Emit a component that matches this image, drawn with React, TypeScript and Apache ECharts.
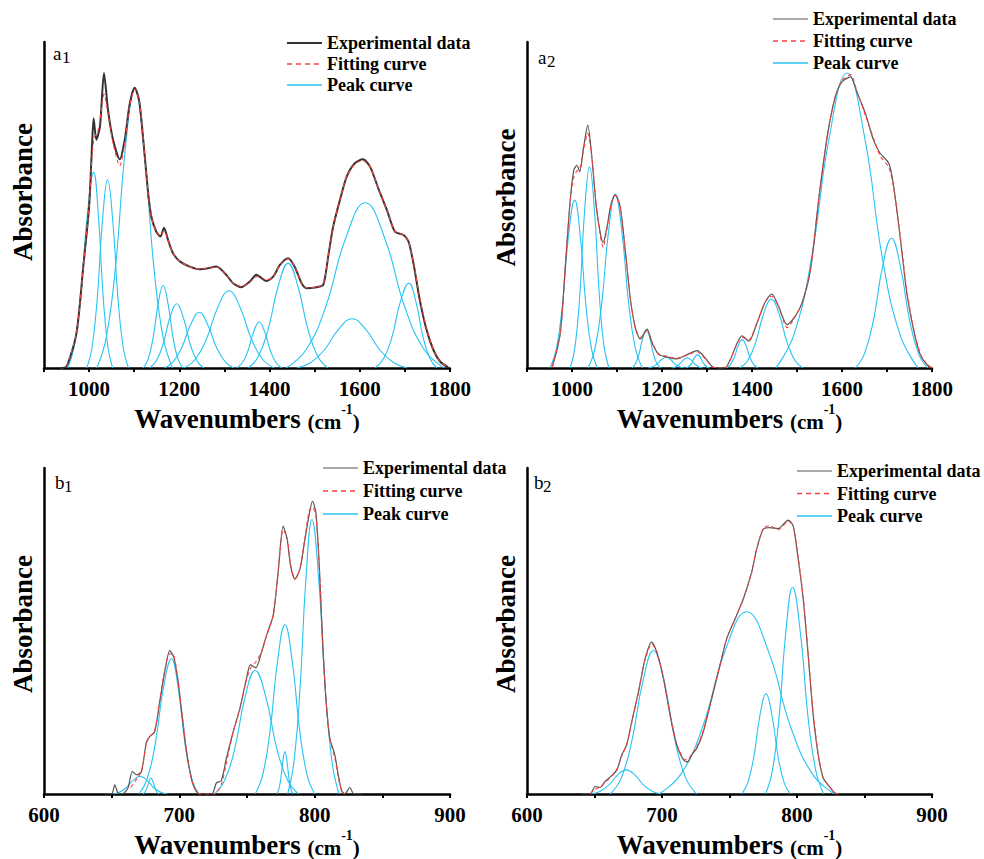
import React, { useEffect, useRef } from 'react';
import * as echarts from 'echarts';

// ---------- panel a1 ----------
const a1Exp: number[][] = [[935,0],[950,0.5],[972,10.7],[987,31],[1000,49.5],[1007,70],[1010,76.5],[1016,70],[1024,74],[1033,90.5],[1042,79],[1053,70],[1068,64],[1079,70],[1090,81],[1101,86],[1111,82],[1120,70],[1131,53.5],[1138,46.4],[1149,41.8],[1158,40.3],[1166,43],[1175,39.3],[1186,35.2],[1201,32.7],[1223,31.1],[1245,30.3],[1264,30.6],[1282,31.1],[1304,28.6],[1319,26],[1338,24.8],[1356,26.5],[1371,28.6],[1378,28],[1393,26.7],[1408,28],[1423,31.6],[1441,33.7],[1456,31],[1471,26],[1482,24.5],[1504,24.8],[1519,25.5],[1530,34.2],[1541,43.4],[1556,51.5],[1571,58.7],[1589,62.8],[1607,64],[1623,61.7],[1641,55.1],[1660,48.5],[1678,41.8],[1697,40.8],[1708,38.8],[1719,32.1],[1733,20.9],[1748,11.7],[1763,5.6],[1778,2],[1796,0.2]];
const a1Fit: number[][] = [[950,0.5],[972,10.7],[987,31],[1000,50],[1007,66],[1012,71],[1018,72],[1024,76],[1033,84],[1042,78],[1053,69],[1068,62],[1079,69],[1090,80.5],[1101,85.5],[1111,82],[1120,70],[1131,53.5],[1138,46.4],[1149,41.8],[1158,40.6],[1166,42],[1175,39.3],[1186,35.2],[1201,32.7],[1223,31.1],[1245,30.3],[1264,30.6],[1282,31],[1304,28.6],[1319,26],[1338,25],[1356,26.3],[1371,28],[1378,28],[1393,27],[1408,28],[1423,31.6],[1441,33.5],[1456,31],[1471,26],[1482,24.6],[1504,24.8],[1519,25.8],[1530,34.2],[1541,43.4],[1556,51.5],[1571,58.7],[1589,62.6],[1607,63.6],[1623,61.7],[1641,55.1],[1660,48.5],[1678,42],[1697,40.8],[1708,38.8],[1719,32.3],[1733,21.5],[1748,12.2],[1763,5.8],[1778,2],[1796,0.2]];
const a1Peaks: number[][][] = [
  [[953,0],[967,6.6],[981.5,22.2],[996,46.8],[1010,60],[1020.5,46.8],[1031,22.2],[1041.5,6.6],[1052,0]],
  [[995,0],[1006.5,6.3],[1018,21.3],[1029.5,45],[1041,57.7],[1052.5,45],[1064,21.3],[1075.5,6.3],[1087,0]],
  [[1017,0],[1038,9.4],[1059,31.7],[1080,66.8],[1101,85.7],[1122,66.8],[1143,31.7],[1164,9.4],[1185,0]],
  [[1120,0],[1131,2.8],[1142,9.4],[1153,19.7],[1164,25.3],[1175,19.7],[1186,9.4],[1197,2.8],[1208,0]],
  [[1134,0],[1149,2.2],[1164,7.3],[1179,15.4],[1194,19.7],[1209,15.4],[1224,7.3],[1239,2.2],[1254,0]],
  [[1167,0],[1186,1.9],[1205.5,6.3],[1225,13.3],[1244,17.1],[1263,13.3],[1282.5,6.3],[1302,1.9],[1321,0]],
  [[1210,0],[1235,2.6],[1260,8.8],[1285,18.5],[1310,23.7],[1335,18.5],[1360,8.8],[1385,2.6],[1410,0]],
  [[1327,0],[1339.5,1.6],[1352,5.2],[1364.5,11],[1377,14.1],[1389.5,11],[1402,5.2],[1414.5,1.6],[1427,0]],
  [[1353,0],[1375,3.5],[1397,11.9],[1419,25],[1441,32.1],[1463,25],[1485,11.9],[1507,3.5],[1529,0]],
  [[1461,0],[1491.5,1.7],[1522,5.6],[1552.5,11.8],[1583,15.1],[1613.5,11.8],[1644,5.6],[1674.5,1.7],[1705,0]],
  [[1437,0],[1481,5.6],[1524.5,18.8],[1568,39.5],[1612,50.7],[1656,39.5],[1699.5,18.8],[1743,5.6],[1787,0]],
  [[1634,0],[1653,2.9],[1671.5,9.6],[1690,20.3],[1709,26],[1724.5,20.3],[1740,9.6],[1755.5,2.9],[1771,0]],
];

// ---------- panel a2 ----------
const a2Exp: number[][] = [[950,0],[956,0.3],[974,10.7],[985,31],[996,51.5],[1004,60.7],[1011,62.2],[1017,60.2],[1026,67.9],[1035,74.5],[1044,64.8],[1054,49.5],[1063,41.3],[1069,38.5],[1078,43.4],[1087,50.5],[1096,53.1],[1107,49.5],[1119,35.2],[1130,20.9],[1141,12.2],[1152,8.9],[1167,11.9],[1178,7.7],[1193,4.1],[1211,3.4],[1233,2.8],[1256,4.1],[1278,5.3],[1296,3.1],[1311,0.5],[1325,0],[1340,0],[1352,2.6],[1367,7.7],[1378,9.9],[1393,8.2],[1411,13.8],[1430,20.4],[1444,22.7],[1459,18.9],[1478,13.3],[1493,15.3],[1511,19.9],[1530,30.1],[1548,51.5],[1567,70.9],[1585,83.2],[1600,87.8],[1619,89.3],[1633,84.7],[1652,78.1],[1670,69.9],[1685,65.8],[1704,62.8],[1715,55.6],[1730,39.3],[1744,23],[1759,11.7],[1774,4.1],[1789,1],[1800,0]];
const a2Fit: number[][] = [[956,0.3],[974,10.7],[985,31],[996,51],[1004,58.5],[1011,60.5],[1017,61],[1026,67],[1035,72],[1044,64.8],[1054,49.5],[1063,40.5],[1069,37],[1078,43],[1087,50.3],[1096,53],[1107,49.5],[1119,35.2],[1130,20.9],[1141,12.2],[1152,9.3],[1167,11.5],[1178,7.9],[1193,4.3],[1211,3.6],[1233,3],[1256,4],[1278,5],[1296,2.8],[1311,0.5],[1325,0],[1340,0],[1352,2.6],[1367,7.5],[1378,9.4],[1393,8.6],[1411,13.8],[1430,20.4],[1444,22],[1459,18.9],[1478,12.4],[1493,15],[1511,19.9],[1530,30.1],[1548,51.5],[1567,70.9],[1585,83.2],[1600,88.2],[1619,90],[1633,85],[1652,77.5],[1670,70.5],[1685,65],[1704,61.5],[1715,55],[1730,39.8],[1744,23.8],[1759,12.2],[1774,4.4],[1789,1.2],[1800,0]];
const a2Peaks: number[][][] = [
  [[951,0],[965,5.7],[978.5,19.1],[992,40.2],[1006,51.5],[1018.5,40.2],[1031,19.1],[1043.5,5.7],[1056,0]],
  [[996,0],[1007,6.8],[1017.5,22.8],[1028,48.1],[1039,61.7],[1050,48.1],[1060.5,22.8],[1071,6.8],[1082,0]],
  [[1036,0],[1051,5.9],[1066,19.7],[1081,41.6],[1096,53.3],[1111,41.6],[1126,19.7],[1141,5.9],[1156,0]],
  [[1133,0],[1141,1.3],[1149,4.3],[1157,9.1],[1165,11.7],[1173,9.1],[1181,4.3],[1189,1.3],[1197,0]],
  [[1169,0],[1179,0.36],[1189,1.2],[1199,2.6],[1209,3.3],[1219,2.6],[1229,1.2],[1239,0.36],[1249,0]],
  [[1221,0],[1229.75,0.34],[1238.5,1.15],[1247.25,2.4],[1256,3.1],[1264.75,2.4],[1273.5,1.15],[1282.25,0.34],[1291,0]],
  [[1253,0],[1259.5,0.45],[1266,1.5],[1272.5,3.2],[1279,4.1],[1285.5,3.2],[1292,1.5],[1298.5,0.45],[1305,0]],
  [[1343,0],[1351.75,0.96],[1360.5,3.2],[1369.25,6.8],[1378,8.7],[1386.75,6.8],[1395.5,3.2],[1404.25,0.96],[1413,0]],
  [[1373,0],[1390.5,2.3],[1408,7.8],[1425.5,16.5],[1443,21.1],[1460.5,16.5],[1478,7.8],[1495.5,2.3],[1513,0]],
  [[1453,0],[1492.5,10],[1532,33.5],[1571.5,70.6],[1611,90.5],[1650.5,70.6],[1690,33.5],[1729.5,10],[1769,0]],
  [[1630,0],[1650,4.4],[1670,14.7],[1690,31],[1710,39.8],[1730,31],[1750,14.7],[1770,4.4],[1790,0]],
];

// ---------- panel b1 ----------
const b1Exp: number[][] = [[645,0],[650,0],[652.3,2.8],[654.7,0.3],[658,0],[662,1.8],[665.3,6.9],[668.3,5.9],[672,6.9],[675.7,16],[678.1,17.6],[681.8,19.1],[685.5,28.3],[689.2,37.4],[692.9,44],[695.9,42],[699.1,34.4],[702.3,23.2],[705.7,12],[709.7,3.4],[712.6,0.8],[715.1,0],[724,0],[727.4,3.4],[731,4.1],[734.8,11],[739.8,19.1],[744.7,26.2],[749.6,35.4],[752.6,39.7],[756.5,38.7],[760.7,43.5],[764.4,48.6],[769.3,54.7],[773,68],[776.7,82.2],[779.7,78.1],[782.2,70],[785.4,65.9],[789.1,69],[792.8,78.1],[796,85.8],[798.4,89.8],[800.9,86.3],[803.4,70],[805.8,47.6],[808.3,29.3],[811.2,17.1],[814.9,12],[817.4,5.9],[819.9,1],[822.3,0],[826,2],[829,0],[835,0]];
const b1Fit: number[][] = [[664,2],[668.3,4.5],[672,7],[675.7,15.5],[678.1,17.6],[681.8,19.5],[685.5,28.8],[689.2,38],[692.9,43],[695.9,42.5],[699.1,34.8],[702.3,23.5],[705.7,12],[709.7,3.4],[712.6,0.8],[715.1,0],[726,0],[731,3],[734.8,9.5],[739.8,19.1],[744.7,26.2],[749.6,35],[752.6,38.5],[756.5,40.5],[760.7,43.5],[764.4,48.6],[769.3,54.7],[773,68],[776.7,81],[779.7,78.5],[782.2,70.5],[785.4,66],[789.1,69],[792.8,78.5],[796,87],[798.4,88],[800.9,85.5],[803.4,70],[805.8,47.6],[808.3,29.3],[811.2,17.1],[814.9,11],[817.4,5.2],[819.9,1],[822.3,0]];
const b1Peaks: number[][][] = [
  [[651,0],[656,0.6],[661,2],[666,4.2],[671,5.4],[676,4.2],[681,2],[686,0.6],[691,0]],
  [[673,0],[674.5,0.54],[676,1.8],[677.5,3.8],[679,4.9],[680.5,3.8],[682,1.8],[683.5,0.54],[685,0]],
  [[670.2,0],[676.2,4.6],[682.2,15.4],[688.2,32.4],[694.2,41.5],[699.2,32.4],[704.2,15.4],[709.2,4.6],[714.2,0]],
  [[726,0],[733.5,4.2],[741,14],[748.5,29.6],[756,37.9],[764,29.6],[772,14],[780,4.2],[788,0]],
  [[756,0],[761.5,5.7],[767,19.2],[772.5,40.5],[778,51.9],[783.5,40.5],[789,19.2],[794.5,5.7],[800,0]],
  [[772,0],[773.5,1.4],[775,4.8],[776.5,10.1],[778,13],[779.5,10.1],[781,4.8],[782.5,1.4],[784,0]],
  [[780,0],[784.5,9.3],[789,31.2],[793.5,65.7],[798,84.2],[803,65.7],[808,31.2],[813,9.3],[818,0]],
];

// ---------- panel b2 ----------
const b2Exp: number[][] = [[640,0],[646.8,0],[650.5,2.3],[654.2,2],[657.9,3.9],[662.9,5.7],[666.6,7.4],[670.2,12],[673.9,15.1],[677.6,22.2],[682.6,31.3],[687.5,41.5],[692.4,46.6],[696.1,43.5],[701.1,35.4],[706,24.2],[710.9,15.1],[715.8,10.5],[718.8,9.8],[722,12],[725.7,14],[730.6,19.1],[735.6,27.3],[741.7,37.4],[747.9,47.6],[754.1,53.7],[760.2,59.8],[766.4,68],[770.1,75.1],[775,81.2],[779.9,81.7],[786.1,81.4],[789.8,82.7],[793.5,84],[797.2,82.2],[800.9,72],[804.6,59.8],[808.3,42.5],[812,24.2],[815.7,12],[819.4,4.9],[823.1,2.8],[828,0.3],[831,0]];
const b2Fit: number[][] = [[646.8,0],[650.5,1.5],[654.2,2.2],[657.9,3.6],[662.9,5.5],[666.6,7.6],[670.2,11.6],[673.9,15.3],[677.6,22],[682.6,31.5],[687.5,41.2],[692.4,46],[696.1,43.8],[701.1,35.6],[706,24.5],[710.9,15.3],[715.8,10.9],[718.8,10.4],[722,12.2],[725.7,14.4],[730.6,19.4],[735.6,27.3],[741.7,37.4],[747.9,47.6],[754.1,53.7],[760.2,59.8],[766.4,68],[770.1,75.1],[775,81.5],[779.9,82.3],[786.1,81],[789.8,82.4],[793.5,83.6],[797.2,82.2],[800.9,72.5],[804.6,60.5],[808.3,43],[812,24.8],[815.7,12.3],[819.4,5],[823.1,2.6],[828,0.3],[831,0]];
const b2Peaks: number[][][] = [
  [[647.5,0],[654,0.8],[660.5,2.7],[667,5.8],[673.5,7.4],[680,5.8],[686.5,2.7],[693,0.8],[699.5,0]],
  [[661.7,0],[669.7,4.8],[677.7,16.3],[685.7,34.3],[693.7,44],[701.7,34.3],[709.7,16.3],[717.7,4.8],[725.7,0]],
  [[697.7,0],[714,6.1],[730.2,20.7],[746.5,43.6],[762.7,55.9],[779,43.6],[795.2,20.7],[811.5,6.1],[827.7,0]],
  [[759,0],[763.5,3.4],[768,11.4],[772.5,24],[777,30.8],[781.5,24],[786,11.4],[790.5,3.4],[795,0]],
  [[776.7,0],[781.7,7],[786.7,23.5],[791.7,49.5],[796.7,63.4],[802.5,49.5],[808.2,23.5],[814,7],[819.7,0]],
];

// ---------- axes / legend text ----------
const aTickValues = [1000, 1200, 1400, 1600, 1800];
const bTickValues = [600, 700, 800, 900];
const legendNames = ['Experimental data', 'Fitting curve', 'Peak curve'];
const panelLetters = ['a', 'a', 'b', 'b'];
const panelSubs = ['1', '2', '1', '2'];

const FONT = '"Liberation Serif", "Times New Roman", serif';
const BLUE = '#27c3f3';
const RED = '#ff4040';

export default function App() {
  const ref = useRef<HTMLDivElement>(null);
  useEffect(() => {
    if (!ref.current) return;
    const chart = echarts.init(ref.current, null, { renderer: 'svg' });

    const grids = [
      { left: 44, top: 42, width: 406, height: 326 },
      { left: 527, top: 42, width: 405, height: 326 },
      { left: 44, top: 468, width: 406, height: 328 },
      { left: 527, top: 468, width: 405, height: 328 },
    ];
    const xRanges = [
      { min: 900, max: 1800, interval: 100, labels: aTickValues },
      { min: 900, max: 1800, interval: 100, labels: aTickValues },
      { min: 600, max: 900, interval: 50, labels: bTickValues },
      { min: 600, max: 900, interval: 50, labels: bTickValues },
    ];
    const yPads = [26, 15, 14, 14];

    const xAxis = xRanges.map((r, i) => ({
      type: 'value',
      gridIndex: i,
      min: r.min,
      max: r.max,
      interval: r.interval,
      axisLine: { show: true, onZero: false, lineStyle: { color: '#000', width: 2.5 } },
      axisTick: { show: true, length: 4, lineStyle: { color: '#000', width: 2 } },
      splitLine: { show: false },
      axisLabel: {
        color: '#000',
        fontFamily: FONT,
        fontWeight: 'bold',
        fontSize: 21,
        margin: 10,
        formatter: (v: number) => (r.labels.indexOf(v) >= 0 ? String(v) : ''),
      },
      name: '{w|Wavenumbers }{p|(cm}{s|-1}{p|)}',
      nameLocation: 'middle',
      nameGap: 34,
      nameTextStyle: {
        rich: {
          w: { fontFamily: FONT, fontWeight: 'bold', fontSize: 27, color: '#000', lineHeight: 30, verticalAlign: 'bottom' },
          p: { fontFamily: FONT, fontWeight: 'bold', fontSize: 21, color: '#000', lineHeight: 22, verticalAlign: 'bottom' },
          s: { fontFamily: FONT, fontWeight: 'bold', fontSize: 14, color: '#000', lineHeight: 14, verticalAlign: 'top' },
        },
      },
    }));

    const yAxis = grids.map((_, i) => ({
      type: 'value',
      gridIndex: i,
      min: 0,
      max: 100,
      axisLine: { show: true, onZero: false, lineStyle: { color: '#000', width: 2.5 } },
      axisTick: { show: false },
      axisLabel: { show: false },
      splitLine: { show: false },
      name: 'Absorbance',
      nameLocation: 'middle',
      nameGap: 8,
      nameTextStyle: {
        fontFamily: FONT,
        fontWeight: 'bold',
        fontSize: 27,
        color: '#000',
        padding: [0, 0, 0, yPads[i]],
      },
    }));

    const panels = [
      { exp: a1Exp, fit: a1Fit, peaks: a1Peaks, expColor: '#333', expWidth: 2 },
      { exp: a2Exp, fit: a2Fit, peaks: a2Peaks, expColor: '#555', expWidth: 1.2 },
      { exp: b1Exp, fit: b1Fit, peaks: b1Peaks, expColor: '#555', expWidth: 1.2 },
      { exp: b2Exp, fit: b2Fit, peaks: b2Peaks, expColor: '#555', expWidth: 1.2 },
    ];

    const series: any[] = [];
    panels.forEach((p, i) => {
      p.peaks.forEach((pk) => {
        series.push({
          type: 'line', name: legendNames[2], xAxisIndex: i, yAxisIndex: i,
          data: pk, showSymbol: false, symbol: 'none', smooth: 0.45,
          lineStyle: { color: BLUE, width: 1.1 }, z: 2,
        });
      });
      series.push({
        type: 'line', name: legendNames[0], xAxisIndex: i, yAxisIndex: i,
        data: p.exp, showSymbol: false, symbol: 'none', smooth: 0.25,
        lineStyle: { color: p.expColor, width: p.expWidth }, z: 3,
      });
      series.push({
        type: 'line', name: legendNames[1], xAxisIndex: i, yAxisIndex: i,
        data: p.fit, showSymbol: false, symbol: 'none', smooth: 0.25,
        lineStyle: { color: RED, width: 1.1, type: [4, 3] }, z: 4,
      });
    });

    // legend + panel labels as graphic elements
    const legendPos = [
      { x: 287, y: 43, dy: 21, ew: 2 },
      { x: 773, y: 19, dy: 22, ew: 1.2 },
      { x: 323, y: 468, dy: 23, ew: 1.2 },
      { x: 797, y: 471, dy: 22.5, ew: 1.2 },
    ];
    const labelPos = [
      { x: 53, y: 53 },
      { x: 538, y: 57 },
      { x: 55, y: 482 },
      { x: 534, y: 482 },
    ];
    const graphic: any[] = [];
    legendPos.forEach((lp, i) => {
      const colors = [panels[i].expColor, RED, BLUE];
      const widths = [lp.ew, 1.3, 1.3];
      legendNames.forEach((nm, k) => {
        const yy = lp.y + k * lp.dy;
        const st: any = { stroke: colors[k], lineWidth: widths[k] };
        if (k === 1) st.lineDash = [5, 4];
        graphic.push({
          type: 'line',
          shape: { x1: lp.x, y1: yy, x2: lp.x + 35, y2: yy },
          style: st,
        });
        graphic.push({
          type: 'text',
          x: lp.x + 40,
          y: yy,
          style: { text: nm, fontFamily: FONT, fontWeight: 'bold', fontSize: 18, fill: '#000', verticalAlign: 'middle', align: 'left' },
        });
      });
      const lb = labelPos[i];
      graphic.push({
        type: 'text', x: lb.x, y: lb.y,
        style: { text: panelLetters[i], fontFamily: FONT, fontSize: 19, fill: '#000', verticalAlign: 'middle', align: 'left' },
      });
      graphic.push({
        type: 'text', x: lb.x + 9, y: lb.y + 4,
        style: { text: panelSubs[i], fontFamily: FONT, fontSize: 17, fill: '#000', verticalAlign: 'middle', align: 'left' },
      });
    });

    chart.setOption({
      animation: false,
      backgroundColor: '#fff',
      grid: grids,
      xAxis,
      yAxis,
      series,
      graphic,
    });
    return () => chart.dispose();
  }, []);

  return <div ref={ref} style={{ position: 'absolute', left: 0, top: 0, width: 984, height: 859 }} />;
}
